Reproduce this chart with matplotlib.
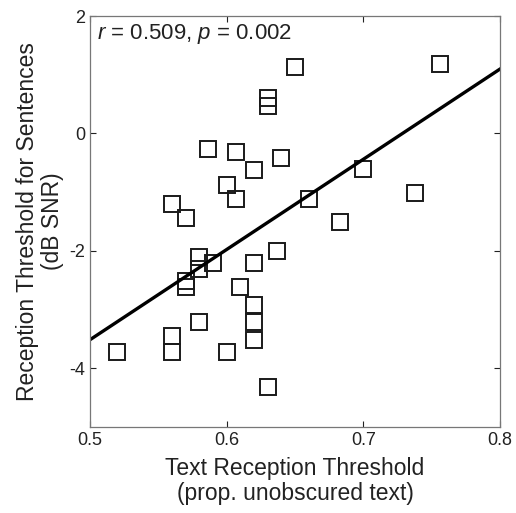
import numpy as np
from matplotlib import pyplot as plt

plt.rcParams['font.family'] = ['Liberation Sans', 'DejaVu Sans']
plt.rcParams['mathtext.fontset'] = 'custom'
plt.rcParams['mathtext.rm'] = 'Liberation Sans'
plt.rcParams['mathtext.it'] = 'Liberation Sans:italic'
plt.rcParams['axes.unicode_minus'] = False

# text reception threshold (x) vs sentence threshold (y)
trt = [0.52, 0.56, 0.56, 0.56, 0.57, 0.57, 0.57, 0.58, 0.58, 0.58, 0.59,
       0.586, 0.60, 0.60, 0.607, 0.607, 0.61, 0.62, 0.62, 0.62, 0.62, 0.62,
       0.63, 0.63, 0.63, 0.637, 0.64, 0.65, 0.66, 0.683, 0.70, 0.738, 0.756]
rts = [-3.72, -3.45, -3.72, -1.21, -1.44, -2.51, -2.61, -2.11, -2.31, -3.21, -2.21,
       -0.27, -0.87, -3.72, -0.32, -1.12, -2.61, -0.62, -2.21, -2.92, -3.21, -3.52,
       0.60, 0.47, -4.31, -2.01, -0.41, 1.14, -1.12, -1.51, -0.61, -1.02, 1.18]

xs = np.array(trt)
ys = np.array(rts)
slope, icpt = np.polyfit(xs, ys, 1)

fig = plt.figure(figsize=(5.16, 5.13), dpi=100)
ax = fig.add_axes([0.1744, 0.1676, 0.7946, 0.8012])

ax.plot(xs, ys, 's', mfc='none', mec='#1a1a1a', mew=1.4, ms=11.5)
lx = np.array([0.5, 0.8])
ax.plot(lx, slope * lx + icpt, color='black', lw=2.4)

ax.set_xlim(0.5, 0.8)
ax.set_ylim(-5, 2)
ax.set_xticks([0.5, 0.6, 0.7, 0.8])
ax.set_xticklabels(['0.5', '0.6', '0.7', '0.8'])
ax.set_yticks([-4, -2, 0, 2])
ax.tick_params(direction='in', top=True, right=True, labelsize=13,
               colors='#222222', length=4, width=0.8)
for s in ax.spines.values():
    s.set_color('#777777')
    s.set_linewidth(0.9)

ax.set_xlabel('Text Reception Threshold\n(prop. unobscured text)', fontsize=16.5,
              color='#222222', labelpad=6, linespacing=1.1)
ax.set_ylabel('Reception Threshold for Sentences\n(dB SNR)', fontsize=16.5,
              color='#222222', labelpad=4, linespacing=1.1)
ax.text(0.018, 0.985, '$\\it{r}$ = 0.509, $\\it{p}$ = 0.002', transform=ax.transAxes,
        ha='left', va='top', fontsize=16, color='#222222')

plt.savefig('out.png', dpi=100)
